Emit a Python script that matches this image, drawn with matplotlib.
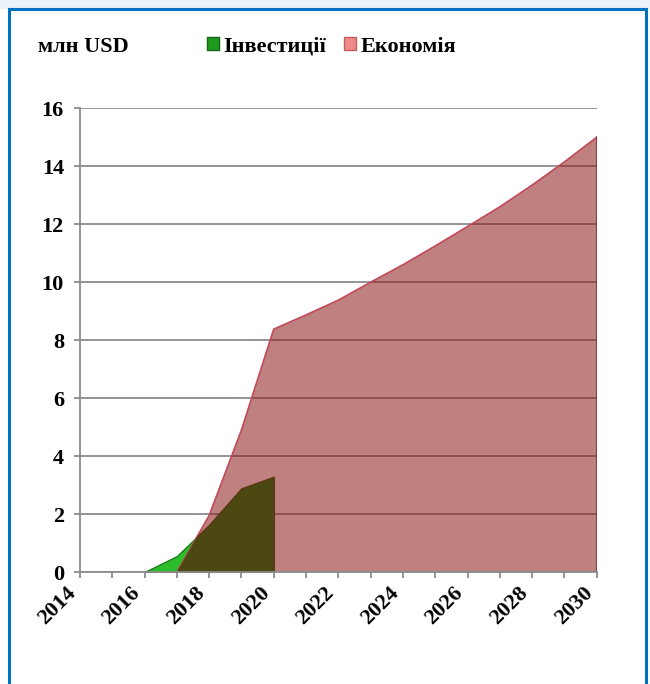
import numpy as np
import matplotlib
matplotlib.use("Agg")
import matplotlib.pyplot as plt
from matplotlib.lines import Line2D
from matplotlib.patches import Rectangle

# data (million USD)
years_inv = [2016, 2017, 2018, 2019, 2020]
investments = [0.0, 0.55, 1.62, 2.88, 3.28]

years_sav = [2017, 2018, 2019, 2020, 2021, 2022, 2023, 2024, 2025, 2026, 2027, 2028, 2029, 2030]
savings = [0.0, 1.95, 4.9, 8.38, 8.87, 9.38, 10.0, 10.6, 11.25, 11.92, 12.6, 13.35, 14.15, 15.0]

label_inv = "Інвестиції"
label_sav = "Економія"
unit_label = "млн USD"

FS = 16

plt.rcParams['font.family'] = ['Liberation Serif', 'DejaVu Serif']
plt.rcParams['font.weight'] = 'bold'

fig = plt.figure(figsize=(6.5, 6.84), dpi=100)
ax = fig.add_axes([0.123, 0.1637, 0.795, 0.678])

# grid behind
ax.set_axisbelow(True)
ax.yaxis.grid(True, color='#8c8c8c', linewidth=1.3)

# investments (green), below savings
ax.fill_between(years_inv, 0, investments, facecolor='#2bbd2b',
                edgecolor='#1c7d1c', linewidth=1, zorder=2)

# savings (semi-transparent red)
sav_poly = ax.fill_between(years_sav, 0, savings, facecolor='#8c1818', alpha=0.55,
                           edgecolor='none', zorder=3)
ax.plot(years_sav, savings, color='#c04a5a', linewidth=1.2, zorder=4)
ax.plot([years_sav[-1], years_sav[-1]], [0, savings[-1]], color='#7a2a2a', linewidth=1.2, zorder=4)

# overlap region, dark olive
olive = ax.fill_between(years_inv, 0, investments, facecolor='#4b4812',
                        edgecolor='#5a3a15', linewidth=1.2, zorder=5)
clip = sav_poly.get_paths()[0]
olive.set_clip_path(clip, ax.transData)

ax.set_xlim(2014, 2030)
ax.set_ylim(0, 16)
ax.set_yticks(np.arange(0, 17, 2))
ax.set_xticks(np.arange(2014, 2031, 2))
ax.set_xticks(np.arange(2015, 2030, 2), minor=True)

for s in ['top', 'right']:
    ax.spines[s].set_visible(False)
for s in ['left', 'bottom']:
    ax.spines[s].set_color('#8c8c8c')
    ax.spines[s].set_linewidth(1.3)
ax.spines['bottom'].set_zorder(6)

ax.tick_params(axis='y', length=4.5, width=1.3, color='#8c8c8c', pad=7, labelsize=FS)
ax.tick_params(axis='x', which='both', length=4, width=1.3, color='#8c8c8c', pad=4, labelsize=FS)
for lbl in ax.get_xticklabels():
    lbl.set_rotation(45)
    lbl.set_ha('right')
    lbl.set_va('top')
    lbl.set_fontweight('bold')
for lbl in ax.get_yticklabels():
    lbl.set_fontweight('bold')

# unit label and legend
fig.text(0.058, 0.932, unit_label, fontsize=FS, fontweight='bold', va='center', ha='left')
handles = [Rectangle((0, 0), 1, 1, facecolor='#1e9a1e', edgecolor='#146414'),
           Rectangle((0, 0), 1, 1, facecolor='#ee8a8a', edgecolor='#c06060')]
fig.legend(handles, [label_inv, label_sav], loc='center', bbox_to_anchor=(0.51, 0.932),
           ncol=2, frameon=False, handlelength=0.55, handleheight=0.55,
           handletextpad=0.2, columnspacing=0.8, borderpad=0,
           prop={'weight': 'bold', 'size': FS})

# frame
fig.patches.append(Rectangle((0, 1 - 9 / 684), 1, 9 / 684, transform=fig.transFigure,
                             facecolor='#eaf2fa', edgecolor='none', zorder=0))
fig.lines.append(Line2D([9 / 650, 9 / 650], [0, 1 - 9 / 684], transform=fig.transFigure,
                        color='#0070c0', linewidth=2.2))
fig.lines.append(Line2D([646 / 650, 646 / 650], [0, 1 - 9 / 684], transform=fig.transFigure,
                        color='#0070c0', linewidth=2.2))
fig.lines.append(Line2D([9 / 650, 646 / 650], [1 - 9 / 684, 1 - 9 / 684], transform=fig.transFigure,
                        color='#0070c0', linewidth=2.2))

fig.savefig("out.png", dpi=100)
